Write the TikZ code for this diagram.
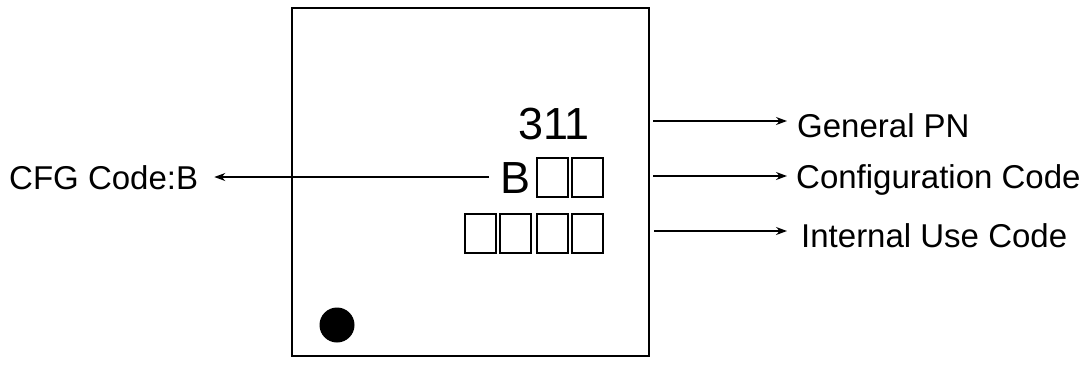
\documentclass[tikz,border=0pt]{standalone}
\usepackage{fontspec}
\setmainfont{Liberation Sans}
\usetikzlibrary{arrows.meta}
\begin{document}
\begin{tikzpicture}[x=1pt,y=-1pt,
  caption/.style={inner sep=0pt,anchor=base west,font=\fontsize{33}{36}\selectfont},
  marktext/.style={inner sep=0pt,anchor=base west,font=\fontsize{45}{50}\selectfont},
  cell/.style={draw,line width=1.2pt},
  pointer/.style={line width=1.3pt,-{Stealth[length=11pt,width=8pt]}}]
  \useasboundingbox (0,0) rectangle (1087,368);
  % package outline
  \node[draw,line width=2.4pt,minimum width=357pt,minimum height=348pt,inner sep=0pt]
    (pkg) at (470.5,182) {};
  % pin-1 dot
  \fill (337,325) circle (17.5pt);
  % marking text
  \node[marktext] (pn) at (518,139) {311};
  \node[marktext] (cfgB) at (500,193) {B};
  \foreach \i/\x in {1/537,2/572}
    \draw[cell] (\x,158) rectangle ++(31,39) coordinate (r1\i);
  \foreach \i/\x in {1/465,2/500,3/537,4/572}
    \draw[cell] (\x,214) rectangle ++(31,39) coordinate (r2\i);
  % captions
  \node[caption] (gpn) at (797,137) {General PN};
  \node[caption] (conf) at (796,188) {Configuration Code};
  \node[caption] (intc) at (801,247) {Internal Use Code};
  \node[caption] (cfg) at (9,189.5) {CFG Code:B};
  % leader arrows
  \coordinate (a1) at (653,121);
  \coordinate (a2) at (653,176);
  \coordinate (a3) at (654,231);
  \coordinate (a4) at (489,177);
  \draw[pointer] (a1) -- ([xshift=-10pt]a1 -| gpn.west);
  \draw[pointer] (a2) -- ([xshift=-9pt]a2 -| conf.west);
  \draw[pointer] (a3) -- ([xshift=-14pt]a3 -| intc.west);
  \draw[pointer] (a4) -- ([xshift=16pt]a4 -| cfg.east);
\end{tikzpicture}
\end{document}
